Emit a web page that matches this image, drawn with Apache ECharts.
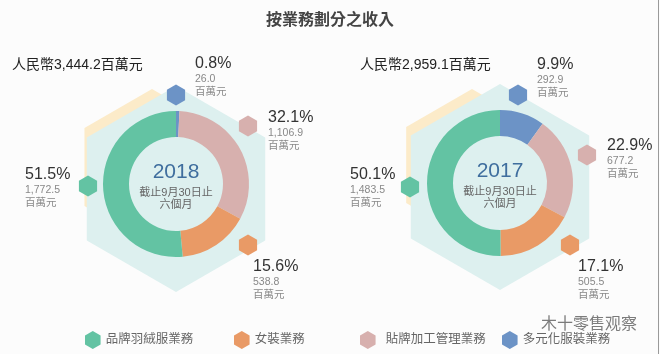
<!DOCTYPE html>
<html><head><meta charset="utf-8">
<script src="https://cdn.jsdelivr.net/npm/echarts@6/dist/echarts.min.js"></script>
<style>html,body{margin:0;padding:0;background:#fcfcfc;}#c{width:660px;height:354px;}</style>
</head><body><div id="c"></div>
<script>
// ---- data ----
const title = '按業務劃分之收入';
const categories = ['品牌羽絨服業務', '女裝業務', '貼牌加工管理業務', '多元化服裝業務'];
const years = ['2018', '2017'];
const totals = ['3,444.2', '2,959.1'];
const values2018 = [1772.5, 538.8, 1106.9, 26.0];
const pct2018 = ['51.5', '15.6', '32.1', '0.8'];
const values2017 = [1483.5, 505.5, 677.2, 292.9];
const pct2017 = ['50.1', '17.1', '22.9', '9.9'];
const unitText = '百萬元';
const periodLine1 = '截止9月30日止';
const periodLine2 = '六個月';
const currencyPrefix = '人民幣';

// ---- styles / layout ----
const colors = ['#63c3a3', '#e99a66', '#d7b0ae', '#6c93c6'];
const drawOrder = [3, 2, 1, 0]; // clockwise from top
const font = 'Arial, "Liberation Sans", "Noto Sans CJK TC", sans-serif';
const pies = [
  { cx: 176, cy: 184, tealHex: [176, 189, 103], yellowHex: [152, 167, 78], header: [12, 65],
    markers: [[88, 186], [248, 245], [248, 126], [176, 95]],
    labels: [[25, 175], [253, 267], [268, 118], [195, 64]] },
  { cx: 500, cy: 183, tealHex: [500, 187, 103], yellowHex: [472, 165, 76], header: [360, 65],
    markers: [[410, 187], [570, 245], [587, 155], [518, 95]],
    labels: [[350, 175], [578, 267], [607, 146], [537, 65]] }
];
const allValues = [values2018, values2017];
const allPct = [pct2018, pct2017];

function hexPoints(cx, cy, R) {
  const pts = [];
  for (let i = 0; i < 6; i++) {
    const a = Math.PI / 180 * (-90 + 60 * i);
    pts.push([cx + R * Math.cos(a), cy + R * Math.sin(a)]);
  }
  return pts;
}
const hexPath = 'path://M50,0 L93.3,25 L93.3,75 L50,100 L6.7,75 L6.7,25 Z';
const fmt = v => v.toLocaleString('en-US', { minimumFractionDigits: 1, maximumFractionDigits: 1 });

const graphic = [];
graphic.push({ type: 'text', left: 'center', top: 13, z: 100,
  style: { text: title, font: 'bold 16px ' + font, fill: '#444' } });
graphic.push({ type: 'line', z: 100, shape: { x1: 658.5, y1: 0, x2: 658.5, y2: 354 },
  style: { stroke: '#9a9a9a', lineWidth: 1 } });

const series = [];
pies.forEach((p, k) => {
  graphic.push({ type: 'polygon', z: -20, shape: { points: hexPoints(...p.yellowHex) }, style: { fill: '#fcebc9' } });
  graphic.push({ type: 'polygon', z: -10, shape: { points: hexPoints(...p.tealHex) }, style: { fill: '#ddf0ef' } });
  graphic.push({ type: 'text', z: 100, x: p.header[0], y: p.header[1],
    style: { text: currencyPrefix + totals[k] + unitText, font: '14px ' + font, fill: '#222', verticalAlign: 'middle' } });
  graphic.push({ type: 'text', z: 100, x: p.cx, y: p.cy - 12,
    style: { text: years[k], font: '21px ' + font, fill: '#3f6e9e', align: 'center', verticalAlign: 'middle' } });
  graphic.push({ type: 'text', z: 100, x: p.cx, y: p.cy + 9,
    style: { text: periodLine1, font: '11px ' + font, fill: '#666', align: 'center', verticalAlign: 'middle' } });
  graphic.push({ type: 'text', z: 100, x: p.cx, y: p.cy + 21,
    style: { text: periodLine2, font: '11px ' + font, fill: '#666', align: 'center', verticalAlign: 'middle' } });
  categories.forEach((c, i) => {
    const m = p.markers[i], l = p.labels[i];
    graphic.push({ type: 'polygon', z: 50, shape: { points: hexPoints(m[0], m[1], 10.5) }, style: { fill: colors[i] } });
    graphic.push({ type: 'text', z: 100, x: l[0], y: l[1],
      style: { text: allPct[k][i] + '%', font: '16px ' + font, fill: '#333', verticalAlign: 'middle' } });
    graphic.push({ type: 'text', z: 100, x: l[0], y: l[1] + 15,
      style: { text: fmt(allValues[k][i]), font: '10.5px ' + font, fill: '#888', verticalAlign: 'middle' } });
    graphic.push({ type: 'text', z: 100, x: l[0], y: l[1] + 28,
      style: { text: unitText, font: '10.5px ' + font, fill: '#888', verticalAlign: 'middle' } });
  });
  series.push({
    type: 'pie', name: years[k], center: [p.cx, p.cy], radius: [47, 73],
    startAngle: 90, clockwise: true, avoidLabelOverlap: false,
    label: { show: false }, labelLine: { show: false },
    emphasis: { scale: false }, silent: true, animation: false,
    data: drawOrder.map(i => ({ name: categories[i], value: allValues[k][i], itemStyle: { color: colors[i] } }))
  });
});

graphic.push({ type: 'text', z: 100, x: 541, y: 323,
  style: { text: '木十零售观察', font: '16px "Noto Sans CJK SC", sans-serif', fill: 'rgba(80,80,80,0.75)', verticalAlign: 'middle' } });

const legendLefts = [80, 229, 355, 497];
const legend = categories.map((c, i) => ({
  data: [c], left: legendLefts[i], top: 326, icon: hexPath, itemWidth: 16, itemHeight: 18,
  selectedMode: false,
  textStyle: { color: '#666', fontSize: 12.5, fontFamily: font, padding: i === 2 ? [0, 0, 0, 5] : 0 }
}));

const chart = echarts.init(document.getElementById('c'), null, { renderer: 'canvas' });
chart.setOption({
  backgroundColor: '#fcfcfc',
  animation: false,
  color: colors,
  legend: legend,
  graphic: graphic,
  series: series
});
</script></body></html>
